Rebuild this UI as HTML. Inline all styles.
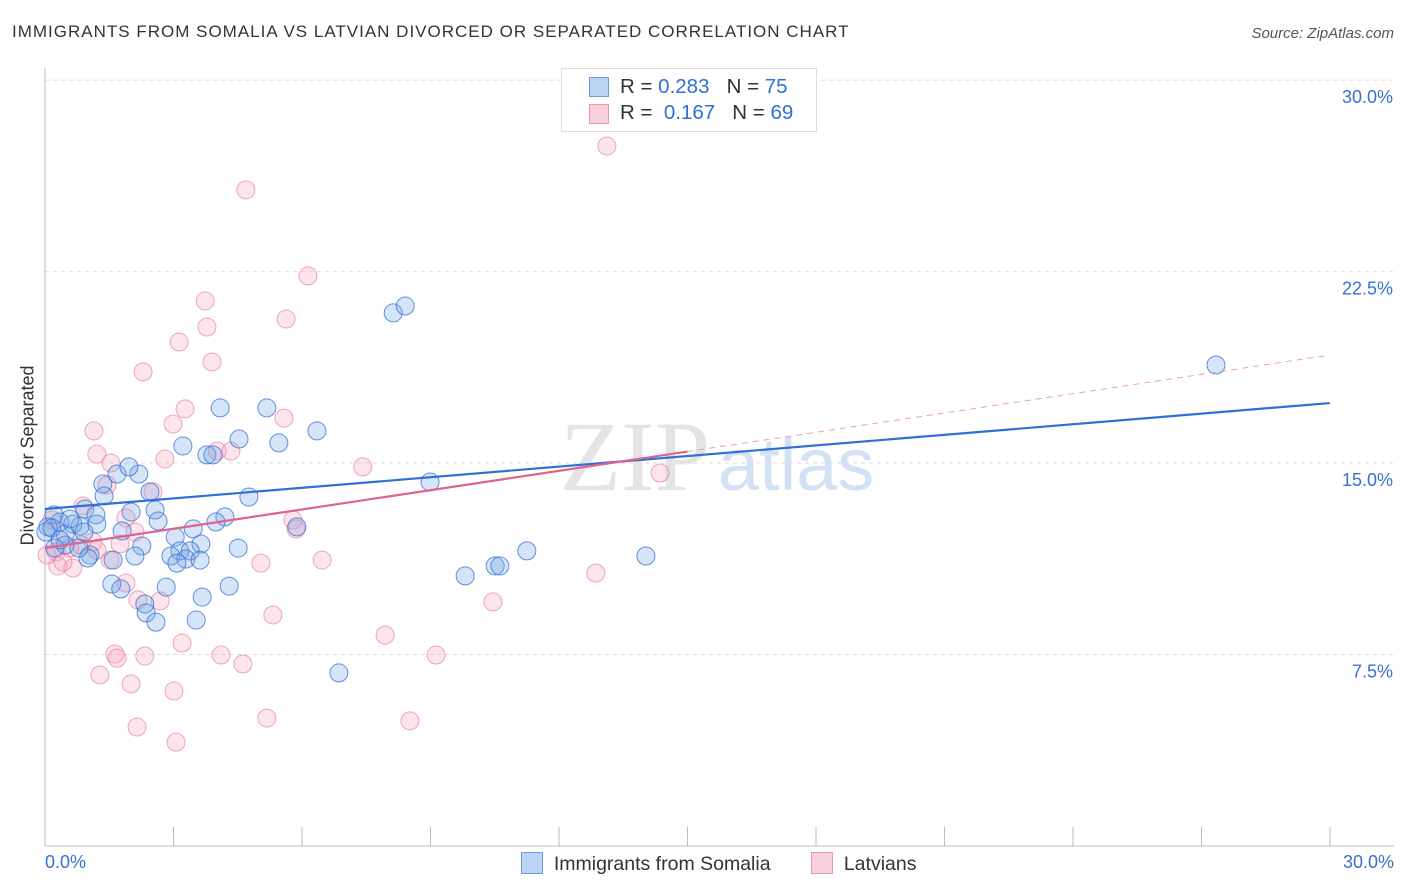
<!DOCTYPE html>
<html><head><meta charset="utf-8"><style>
body{margin:0;background:#fff;font-family:"Liberation Sans",sans-serif}
#wrap{position:relative;width:1406px;height:892px}
.t{position:absolute;white-space:nowrap}
</style></head><body>
<div id="wrap">
<div class="t" style="left:12px;top:22px;font-size:17px;letter-spacing:1px;color:#333">IMMIGRANTS FROM SOMALIA VS LATVIAN DIVORCED OR SEPARATED CORRELATION CHART</div>
<div class="t" style="right:12px;top:25px;font-size:15px;color:#555;font-style:italic">Source: ZipAtlas.com</div>
<svg id="s" width="1406" height="892" style="position:absolute;left:0;top:0"></svg>
</div>
<script>
const blueX=[],blueY=[],pinkX=[],pinkY=[];
const bluePx=[[393,313],[405,306],[1216,365],[220,408],[267,408],[317,431],[239,439],[279,443],[183,446],[207,455],[213,455],[430,482],[139,474],[117,474],[129,467],[103,484],[150,492],[249,497],[104,496],[85,509],[96,515],[131,512],[155,510],[158,521],[225,517],[216,522],[54,515],[60,522],[80,526],[73,524],[97,524],[297,527],[122,531],[48,527],[175,537],[193,529],[65,534],[84,532],[65,545],[55,548],[90,555],[142,546],[201,544],[238,548],[180,551],[190,551],[171,556],[186,559],[200,560],[177,563],[135,556],[113,560],[88,558],[527,551],[646,556],[495,566],[500,566],[465,576],[112,584],[121,589],[166,587],[229,586],[202,597],[145,604],[146,613],[156,622],[196,620],[339,673],[46,532],[52,528],[70,519],[79,548],[60,540]];
const pinkPx=[[607,146],[246,190],[308,276],[205,301],[286,319],[207,327],[179,342],[212,362],[143,372],[185,409],[173,424],[284,418],[94,431],[217,451],[231,451],[97,454],[363,467],[165,459],[111,463],[660,473],[153,492],[107,485],[83,506],[126,518],[52,520],[293,520],[296,529],[135,532],[81,545],[97,550],[110,560],[56,552],[58,566],[73,568],[63,562],[261,563],[322,560],[126,583],[138,600],[160,601],[273,615],[493,602],[596,573],[385,635],[182,643],[115,654],[221,655],[436,655],[145,656],[117,658],[243,664],[100,675],[131,684],[174,691],[267,718],[410,721],[137,727],[176,742],[93,542],[70,548],[47,555],[120,544]];
bluePx.forEach(p=>{blueX.push(+((p[0]-45)/42.83).toFixed(2));blueY.push(+((846-p[1])/25.53).toFixed(2));});
pinkPx.forEach(p=>{pinkX.push(+((p[0]-45)/42.83).toFixed(2));pinkY.push(+((846-p[1])/25.53).toFixed(2));});
const yTicks=[7.5,15,22.5,30];
const yTickLabels=["7.5%","15.0%","22.5%","30.0%"];
const blueTrend=[13.2,17.35];
const pinkTrend=[11.67,19.23];
const X=v=>45+v*42.83, Y=v=>846-v*25.53;
const s=document.getElementById('s');const NS='http://www.w3.org/2000/svg';
function el(t,a,p){const e=document.createElementNS(NS,t);for(const k in a)e.setAttribute(k,a[k]);(p||s).appendChild(e);return e;}
yTicks.forEach((v,i)=>{
 const g=el('line',{x1:45,x2:1394,y1:Y(v),y2:Y(v),stroke:'#ddd','stroke-dasharray':'4,4'});
 
 
 const t=el('text',{x:1393,y:Y(v)+23,'text-anchor':'end','font-size':18,fill:'#3a6fd1'});t.textContent=yTickLabels[i];
 
 
});
let ax=el('line',{x1:45,x2:45,y1:68,y2:846,stroke:'#bbb'});

ax=el('line',{x1:45,x2:1394,y1:846,y2:846,stroke:'#bbb'});

for(let i=1;i<=10;i++){const tk=el('line',{x1:45+i*128.5,x2:45+i*128.5,y1:827,y2:846,stroke:'#bbb'});}
let w=el('text',{x:635,y:490,'text-anchor':'middle','font-size':100,fill:'#e4e4e4','font-family':'Liberation Serif'});w.textContent='ZIP';

w=el('text',{x:718,y:490,'text-anchor':'start','font-size':74,fill:'#d3e1f4'});w.textContent='atlas';

function dots(xs,ys,fill,stroke,name){xs.forEach((x,i)=>{const c=el('circle',{cx:X(x),cy:Y(ys[i]),r:9,fill:fill,stroke:stroke,'stroke-width':1});
 
 });}
dots(pinkX,pinkY,'rgba(246,165,190,0.3)','rgba(232,120,155,0.65)','latvian-point');
dots(blueX,blueY,'rgba(120,165,230,0.3)','rgba(50,110,210,0.75)','somalia-point');
let l=el('line',{x1:X(0),y1:Y(blueTrend[0]),x2:X(30),y2:Y(blueTrend[1]),stroke:'#2f6fd6','stroke-width':2.2});

const pm=(pinkTrend[0]+pinkTrend[1])/2;
l=el('line',{x1:X(0),y1:Y(pinkTrend[0]),x2:X(15),y2:Y(pm),stroke:'#e0628e','stroke-width':2.2});

l=el('line',{x1:X(15),y1:Y(pm),x2:X(30),y2:Y(pinkTrend[1]),stroke:'#e7a0b8','stroke-width':1,'stroke-dasharray':'6,5'});

</script>
<div class="t" style="left:-62px;top:445px;transform:rotate(-90deg);font-size:18px;color:#333">Divorced or Separated</div>
<div class="t" style="left:45px;top:852px;font-size:18px;color:#3a6fd1">0.0%</div>
<div class="t" style="right:12px;top:852px;font-size:18px;color:#3a6fd1">30.0%</div>
<div style="position:absolute;left:561px;top:68px;width:254px;height:62px;border:1px solid #ddd;background:#fff;font-size:20.5px;color:#333">
 <div style="position:absolute;left:27px;top:8px;width:18px;height:18px;background:#bcd3f5;border:1px solid #6b9be0"></div>
 <div class="t" style="left:58px;top:6px">R = <span style="color:#2f6fd6">0.283</span>&nbsp;&nbsp;&nbsp;N = <span style="color:#2f6fd6">75</span></div>
 <div style="position:absolute;left:27px;top:35px;width:18px;height:18px;background:#fbd0dd;border:1px solid #e897b2"></div>
 <div class="t" style="left:58px;top:32px">R = &nbsp;<span style="color:#2f6fd6">0.167</span>&nbsp;&nbsp;&nbsp;N = <span style="color:#2f6fd6">69</span></div>
</div>
<div style="position:absolute;left:521px;top:852px;font-size:19.5px;color:#333">
 <div style="position:absolute;left:0;top:0;white-space:nowrap"><span style="display:inline-block;width:20px;height:20px;background:#bcd3f5;border:1px solid #6b9be0;vertical-align:-4px"></span>&nbsp; Immigrants from Somalia</div>
 <div style="position:absolute;left:290px;top:0;white-space:nowrap"><span style="display:inline-block;width:20px;height:20px;background:#fbd0dd;border:1px solid #e897b2;vertical-align:-4px"></span>&nbsp; Latvians</div>
</div>
</body></html>
